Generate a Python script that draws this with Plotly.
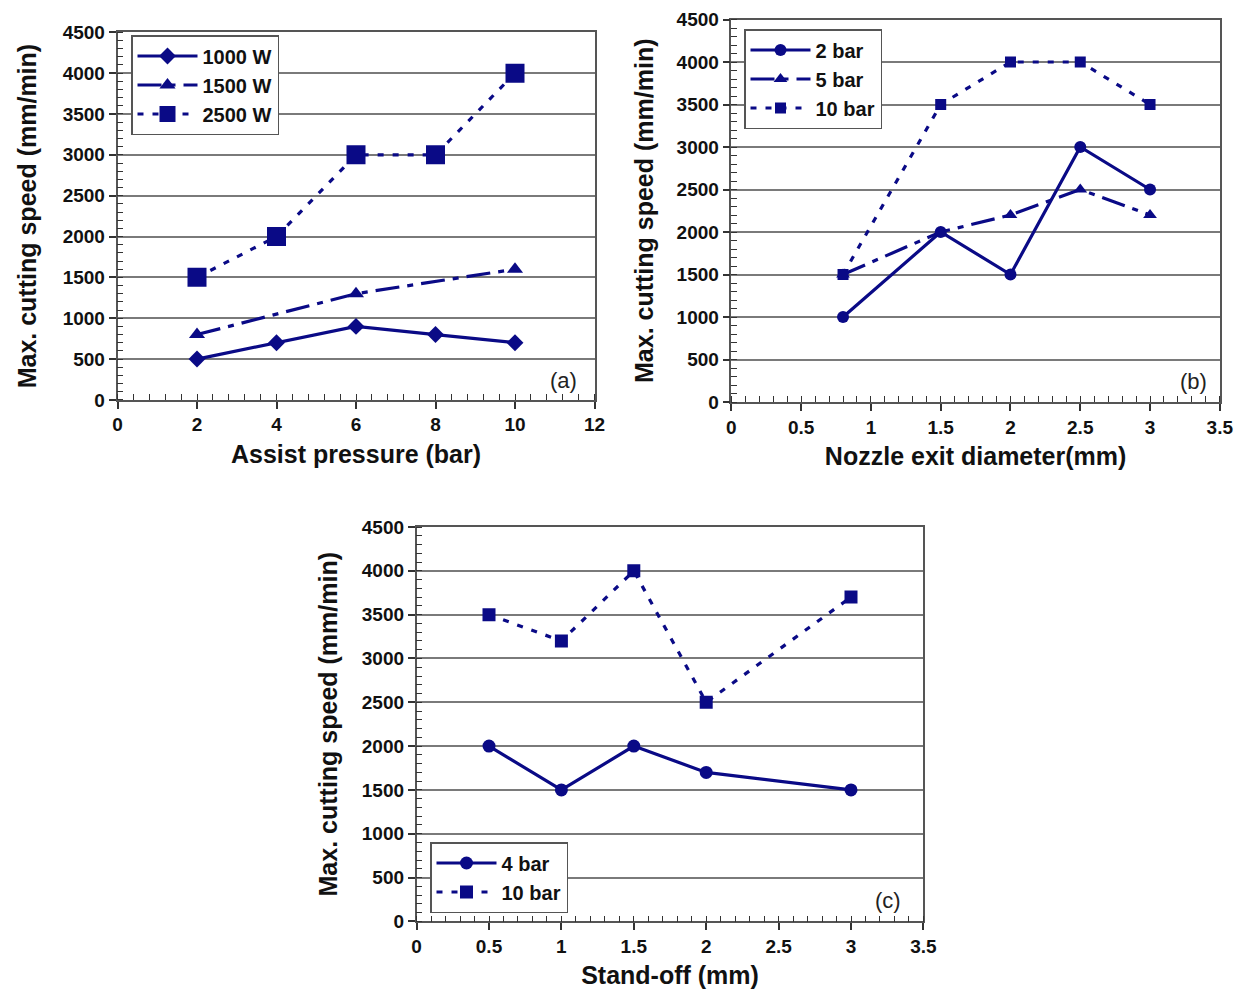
import plotly.graph_objects as go

# ---- data -------------------------------------------------------------
pressure_bar = [2, 4, 6, 8, 10]
speed_1000w = [500, 700, 900, 800, 700]
pressure_1500w = [2, 6, 10]
speed_1500w = [800, 1300, 1600]
speed_2500w = [1500, 2000, 3000, 3000, 4000]

nozzle_mm = [0.8, 1.5, 2, 2.5, 3]
speed_2bar = [1000, 2000, 1500, 3000, 2500]
speed_5bar = [1500, 2000, 2200, 2500, 2200]
speed_10bar_b = [1500, 3500, 4000, 4000, 3500]

standoff_mm = [0.5, 1, 1.5, 2, 3]
speed_4bar = [2000, 1500, 2000, 1700, 1500]
speed_10bar_c = [3500, 3200, 4000, 2500, 3700]

y_ticks = list(range(0, 4501, 500))

# ---- styling ----------------------------------------------------------
NAVY = "#0a0a86"
FONT = "Liberation Sans, Arial, sans-serif"
DOTTED = "6px,9px"
DASHDOT = "24px,8px,6px,8px"

fig = go.Figure()


def add(x, y, name, xa, ya, leg, symbol, size, dash="solid"):
    fig.add_trace(go.Scatter(
        x=x, y=y, name=name, xaxis=xa, yaxis=ya, legend=leg,
        mode="lines+markers",
        line=dict(color=NAVY, width=3.2, dash=dash),
        marker=dict(color=NAVY, symbol=symbol, size=size),
    ))


# (a) assist pressure
add(pressure_bar, speed_1000w, "1000 W", "x", "y", "legend", "diamond", 13)
add(pressure_1500w, speed_1500w, "1500 W", "x", "y", "legend", "triangle-up", 14, DASHDOT)
add(pressure_bar, speed_2500w, "2500 W", "x", "y", "legend", "square", 19, DOTTED)

# (b) nozzle exit diameter
add(nozzle_mm, speed_2bar, "2 bar", "x2", "y2", "legend2", "circle", 12)
add(nozzle_mm, speed_5bar, "5 bar", "x2", "y2", "legend2", "triangle-up", 12, DASHDOT)
add(nozzle_mm, speed_10bar_b, "10 bar", "x2", "y2", "legend2", "square", 11, DOTTED)

# (c) stand-off distance
add(standoff_mm, speed_4bar, "4 bar", "x3", "y3", "legend3", "circle", 13)
add(standoff_mm, speed_10bar_c, "10 bar", "x3", "y3", "legend3", "square", 13, DOTTED)

W, H = 1240, 994


def px_x(p):
    return p / W


def px_y(p):
    return 1 - p / H


tick_font = dict(family=FONT, size=19, color="#111", weight="bold")
title_font = dict(family=FONT, size=25, color="#111", weight="bold")


def xaxis(rng, dtick, minor, left, right, anchor, title):
    return dict(
        range=rng, dtick=dtick, domain=[px_x(left), px_x(right)], anchor=anchor,
        automargin=False,
        showgrid=False, zeroline=False, showline=True, mirror=True,
        linecolor="#555", linewidth=1.5,
        ticks="outside", ticklen=7, tickwidth=1.5, tickcolor="#333",
        minor=dict(dtick=minor, ticks="inside", ticklen=6, tickwidth=1.2,
                   tickcolor="#333", showgrid=False),
        tickfont=tick_font, fixedrange=True,
        title=dict(text=title, font=title_font, standoff=11),
    )


def yaxis(top, bottom, anchor, standoff):
    return dict(
        range=[0, 4500], tickvals=y_ticks, domain=[px_y(bottom), px_y(top)],
        anchor=anchor, automargin=False,
        showgrid=True, gridcolor="#7a7a7a", gridwidth=1.6,
        zeroline=False, showline=True, mirror=True,
        linecolor="#555", linewidth=1.5,
        ticks="outside", ticklen=7, tickwidth=1.5, tickcolor="#333",
        minor=dict(dtick=100, ticks="inside", ticklen=6, tickwidth=1.2,
                   tickcolor="#333", showgrid=False),
        tickfont=tick_font, fixedrange=True,
        title=dict(text="Max. cutting speed (mm/min)", font=title_font,
                   standoff=standoff),
    )


legend_common = dict(
    bgcolor="white", bordercolor="#555", borderwidth=1.5,
    font=dict(family=FONT, size=20, color="#111", weight="bold"),
    xanchor="left", yanchor="top", itemwidth=60, tracegroupgap=0,
    itemclick=False, itemdoubleclick=False,
)

fig.update_layout(
    width=W, height=H,
    margin=dict(l=0, r=0, t=0, b=0),
    paper_bgcolor="white", plot_bgcolor="white",
    showlegend=True,
    xaxis=xaxis([0, 12], 2, 0.4, 117.5, 594.5, "y", "Assist pressure (bar)"),
    yaxis=yaxis(32.3, 399.9, "x", 19),
    xaxis2=xaxis([0, 3.5], 0.5, 0.1, 731.4, 1219.8, "y2", "Nozzle exit diameter(mm)"),
    yaxis2=yaxis(19.5, 402, "x2", 16),
    xaxis3=xaxis([0, 3.5], 0.5, 0.1, 416.6, 923.4, "y3", "Stand-off (mm)"),
    yaxis3=yaxis(527, 921.4, "x3", 17),
    legend=dict(x=px_x(131), y=px_y(35), **legend_common),
    legend2=dict(x=px_x(744), y=px_y(29), **legend_common),
    legend3=dict(x=px_x(430), y=px_y(842), **legend_common),
)

# panel letters
for letter, xr, yr, xpos, ypos in [
    ("(a)", "x", "y", 11.6, 240),
    ("(b)", "x2", "y2", 3.42, 240),
    ("(c)", "x3", "y3", 3.36, 240),
]:
    fig.add_annotation(
        text=letter, x=xpos, y=ypos, xref=xr, yref=yr,
        xanchor="right", yanchor="middle", showarrow=False,
        font=dict(family=FONT, size=22, color="#222"),
    )

fig.write_html("out.html")
